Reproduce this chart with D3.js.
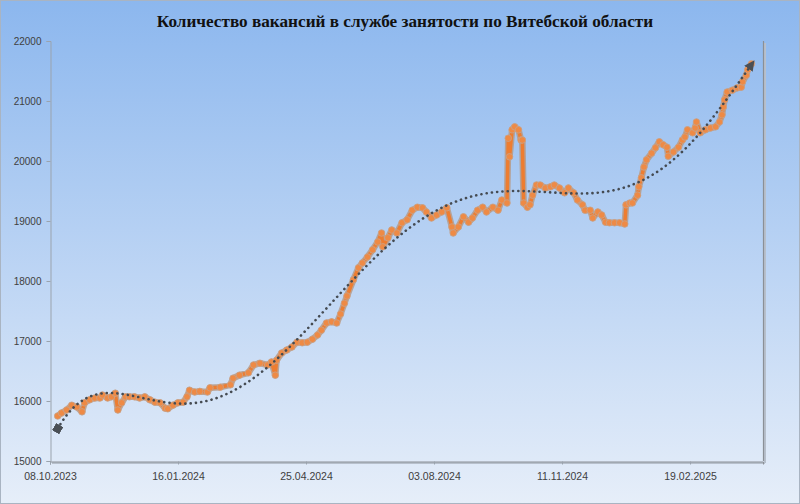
<!DOCTYPE html>
<html><head><meta charset="utf-8">
<script src="https://cdn.jsdelivr.net/npm/d3@7/dist/d3.min.js"></script>
<style>
html,body{margin:0;padding:0;background:#fff;}
svg{display:block;}
</style></head>
<body>
<svg id="chart" width="800" height="504"></svg>
<script>
const title = "Количество вакансий в службе занятости по Витебской области";
const xTickLabels = ["08.10.2023","16.01.2024","25.04.2024","03.08.2024","11.11.2024","19.02.2025"];
const yTickValues = [15000,16000,17000,18000,19000,20000,21000,22000];
const dates = [
"14.10.2023","17.10.2023","21.10.2023","25.10.2023","29.10.2023","02.11.2023","04.11.2023","08.11.2023","12.11.2023","16.11.2023",
"18.11.2023","22.11.2023","25.11.2023","28.11.2023","30.11.2023","03.12.2023","06.12.2023","09.12.2023","13.12.2023","17.12.2023",
"21.12.2023","25.12.2023","29.12.2023","02.01.2024","06.01.2024","08.01.2024","12.01.2024","16.01.2024","20.01.2024","23.01.2024",
"25.01.2024","29.01.2024","02.02.2024","08.02.2024","10.02.2024","18.02.2024","26.02.2024","28.02.2024","04.03.2024","11.03.2024",
"15.03.2024","20.03.2024","26.03.2024","29.03.2024","01.04.2024","02.04.2024","06.04.2024","10.04.2024","14.04.2024","18.04.2024",
"22.04.2024","26.04.2024","30.04.2024","04.05.2024","07.05.2024","11.05.2024","15.05.2024","19.05.2024","22.05.2024","25.05.2024",
"27.05.2024","01.06.2024","05.06.2024","08.06.2024","12.06.2024","16.06.2024","20.06.2024","23.06.2024","24.06.2024","28.06.2024",
"01.07.2024","05.07.2024","09.07.2024","13.07.2024","17.07.2024","21.07.2024","25.07.2024","28.07.2024","01.08.2024","05.08.2024",
"09.08.2024","13.08.2024","17.08.2024","18.08.2024","22.08.2024","26.08.2024","30.08.2024","02.09.2024","06.09.2024","10.09.2024",
"13.09.2024","18.09.2024","22.09.2024","25.09.2024","29.09.2024","30.09.2024","01.10.2024","03.10.2024","05.10.2024","08.10.2024",
"10.10.2024","11.10.2024","12.10.2024","15.10.2024","17.10.2024","19.10.2024","22.10.2024","25.10.2024","29.10.2024","02.11.2024",
"05.11.2024","09.11.2024","13.11.2024","16.11.2024","20.11.2024","23.11.2024","27.11.2024","29.11.2024","03.12.2024","05.12.2024",
"09.12.2024","12.12.2024","15.12.2024","18.12.2024","22.12.2024","26.12.2024","30.12.2024","31.12.2024","03.01.2025","05.01.2025",
"09.01.2025","10.01.2025","12.01.2025","14.01.2025","16.01.2025","20.01.2025","23.01.2025","26.01.2025","29.01.2025","01.02.2025",
"02.02.2025","06.02.2025","10.02.2025","13.02.2025","15.02.2025","17.02.2025","21.02.2025","23.02.2025","24.02.2025","27.02.2025",
"03.03.2025","07.03.2025","11.03.2025","14.03.2025","16.03.2025","17.03.2025","18.03.2025","20.03.2025","24.03.2025","28.03.2025",
"31.03.2025","01.04.2025","04.04.2025","05.04.2025","08.04.2025"
];
const vacancies = [
15750,15800,15850,15930,15900,15820,15970,16020,16050,16050,
16100,16050,16070,16130,15850,15970,16070,16070,16070,16050,
16070,16020,15980,15970,15880,15870,15930,15970,15980,16070,
16180,16150,16160,16150,16220,16230,16270,16380,16430,16470,
16600,16630,16600,16650,16430,16680,16800,16850,16900,16980,
16970,16980,17030,17100,17180,17300,17320,17300,17450,17630,
17750,18020,18220,18300,18400,18520,18650,18800,18570,18720,
18850,18800,18970,19020,19180,19230,19220,19150,19050,19100,
19150,19220,18900,18800,18900,19070,18980,19050,19180,19230,
19150,19230,19180,19350,19300,20380,20070,20520,20570,20520,
20350,20350,19300,19230,19270,19430,19600,19600,19550,19570,
19600,19550,19470,19550,19470,19350,19270,19180,19180,19050,
19150,19100,18980,18970,18970,18970,18950,19270,19300,19300,
19430,19570,19720,19900,20020,20130,20220,20320,20270,20230,
20080,20150,20230,20350,20400,20520,20470,20550,20650,20470,
20520,20550,20570,20650,20770,20900,21020,21150,21180,21220,
21230,21320,21430,21520,21620
];
const trendOrder = 6;

const parse = d3.timeParse("%d.%m.%Y");
const svg = d3.select("#chart");
const W = 800, H = 504;
const plot = {l: 50, r: 763, t: 41, b: 461};

const defs = svg.append("defs");
const bg = defs.append("linearGradient").attr("id","bg").attr("x1",0).attr("y1",0).attr("x2",0).attr("y2",1);
bg.append("stop").attr("offset","0%").attr("stop-color","#8cb7ee");
bg.append("stop").attr("offset","100%").attr("stop-color","#e6eef9");

svg.append("rect").attr("x",0.5).attr("y",0.5).attr("width",W-1).attr("height",H-1)
  .attr("fill","url(#bg)").attr("stroke","#a9b4c2").attr("stroke-width",1);

// title
svg.append("text").attr("x",405).attr("y",27).attr("text-anchor","middle")
  .attr("font-family","'Liberation Serif', 'DejaVu Serif', serif").attr("font-weight","bold")
  .attr("font-size",17.2).attr("fill","#111").text(title);

const x = d3.scaleTime()
  .domain([parse(xTickLabels[0]), d3.timeDay.offset(parse(xTickLabels[0]), 557)])
  .range([plot.l, plot.r]);
const y = d3.scaleLinear().domain([15000,22000]).range([plot.b, plot.t]);

// plot area frame with shadow
svg.append("line").attr("x1",plot.r+2).attr("x2",plot.r+2).attr("y1",plot.t+2).attr("y2",plot.b+2)
  .attr("stroke","#b7c0cc").attr("stroke-width",2);
svg.append("line").attr("x1",plot.l+2).attr("x2",plot.r+2).attr("y1",plot.b+2).attr("y2",plot.b+2)
  .attr("stroke","#b7c0cc").attr("stroke-width",2);
svg.append("line").attr("x1",plot.r+0.5).attr("x2",plot.r+0.5).attr("y1",plot.t).attr("y2",plot.b)
  .attr("stroke","#8a8f96").attr("stroke-width",1.2);

// axes
const fontAxis = "'Liberation Sans', Arial, sans-serif";
const yAxis = d3.axisLeft(y).tickValues(yTickValues).tickSize(4).tickPadding(5).tickFormat(d3.format("d"));
const gy = svg.append("g").attr("transform",`translate(${plot.l+0.5},0)`).call(yAxis);
gy.select(".domain").attr("stroke","#9aa3ad");
gy.selectAll(".tick line").attr("stroke","#9aa3ad");
gy.selectAll("text").attr("font-family",fontAxis).attr("font-size",10).attr("fill","#404040");

const xAxis = d3.axisBottom(x).tickValues(xTickLabels.map(parse)).tickSize(3).tickPadding(8)
  .tickFormat(d3.timeFormat("%d.%m.%Y"));
const gx = svg.append("g").attr("transform",`translate(0,${plot.b+0.5})`).call(xAxis);
gx.select(".domain").attr("stroke","#8a8f96");
gx.selectAll(".tick line").attr("stroke","#9aa3ad");
gx.selectAll("text").attr("font-family",fontAxis).attr("font-size",10.5).attr("fill","#404040");

// data
const data = dates.map((d,i)=>({date: parse(d), value: vacancies[i]}));

const line = d3.line().x(d=>x(d.date)).y(d=>y(d.value));
svg.append("path").datum(data).attr("d",line).attr("fill","none")
  .attr("stroke","#b79a86").attr("stroke-width",6.5).attr("stroke-linejoin","round").attr("opacity",0.85);
svg.append("path").datum(data).attr("d",line).attr("fill","none")
  .attr("stroke","#ed7d31").attr("stroke-width",3.5).attr("stroke-linejoin","round");
svg.append("g").selectAll("circle").data(data).join("circle")
  .attr("cx",d=>x(d.date)).attr("cy",d=>y(d.value)).attr("r",3.3)
  .attr("fill","#ee8a45").attr("stroke","#c6a38c").attr("stroke-width",0.8);

// polynomial trend (least squares)
const t0 = +data[0].date, t1 = +data[data.length-1].date;
const mid = (t0+t1)/2, half = (t1-t0)/2;
const norm = t => (t-mid)/half;
const n = trendOrder+1;
const A = Array.from({length:n},()=>new Array(n).fill(0));
const B = new Array(n).fill(0);
data.forEach(d=>{
  const u = norm(+d.date);
  const p = []; for(let k=0;k<2*n;k++) p.push(Math.pow(u,k));
  for(let i=0;i<n;i++){ B[i]+=d.value*p[i]; for(let j=0;j<n;j++) A[i][j]+=p[i+j]; }
});
for(let i=0;i<n;i++){
  let m=i; for(let r=i+1;r<n;r++) if(Math.abs(A[r][i])>Math.abs(A[m][i])) m=r;
  [A[i],A[m]]=[A[m],A[i]]; [B[i],B[m]]=[B[m],B[i]];
  for(let r=i+1;r<n;r++){ const f=A[r][i]/A[i][i]; for(let c=i;c<n;c++) A[r][c]-=f*A[i][c]; B[r]-=f*B[i]; }
}
const coef = new Array(n).fill(0);
for(let i=n-1;i>=0;i--){ let s=B[i]; for(let c=i+1;c<n;c++) s-=A[i][c]*coef[c]; coef[i]=s/A[i][i]; }
const poly = u => coef.reduce((s,c,k)=>s+c*Math.pow(u,k),0);
const trend = d3.timeDay.range(data[0].date, d3.timeDay.offset(data[data.length-1].date,1))
  .map(dt=>({date: dt, value: poly(norm(+dt))}));

defs.append("marker").attr("id","sq").attr("viewBox","0 0 10 10").attr("refX",5).attr("refY",5)
  .attr("markerWidth",3.2).attr("markerHeight",3.2).attr("markerUnits","strokeWidth").attr("orient","auto")
  .append("rect").attr("x",0).attr("y",0).attr("width",10).attr("height",10).attr("fill","#4a4f55");
defs.append("marker").attr("id","arr").attr("viewBox","0 0 10 10").attr("refX",5).attr("refY",5)
  .attr("markerWidth",4).attr("markerHeight",4).attr("markerUnits","strokeWidth").attr("orient","auto")
  .append("path").attr("d","M0,0 L10,5 L0,10 Z").attr("fill","#4a4f55");

svg.append("path").datum(trend).attr("d",d3.line().x(d=>x(d.date)).y(d=>y(d.value)))
  .attr("fill","none").attr("stroke","#454b52").attr("stroke-width",2.6)
  .attr("stroke-linecap","round").attr("stroke-dasharray","0.1 5.2")
  .attr("marker-start","url(#sq)").attr("marker-end","url(#arr)");
</script>
</body></html>
